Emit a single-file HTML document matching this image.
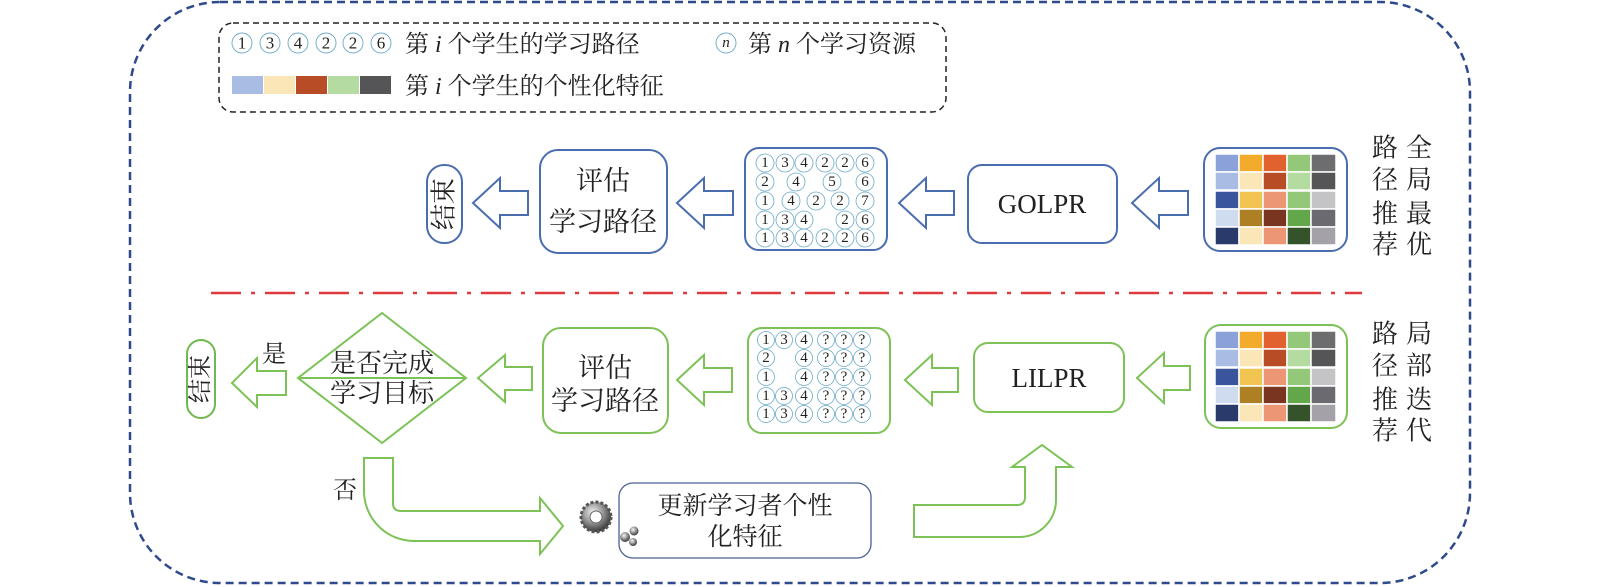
<!DOCTYPE html>
<html><head><meta charset="utf-8"><style>
html,body{margin:0;padding:0;background:#fff;}
svg{display:block;}
text{font-family:"Liberation Serif","Noto Serif CJK SC",serif;fill:#222;}
.c{font-family:"Liberation Serif",serif;font-size:15px;text-anchor:middle;dominant-baseline:central;}
</style></head><body>
<svg width="1600" height="587" viewBox="0 0 1600 587" xmlns="http://www.w3.org/2000/svg">
<defs>
<radialGradient id="g1" cx="40%" cy="35%" r="65%"><stop offset="0" stop-color="#f4f4f4"/><stop offset="0.5" stop-color="#9a9a9a"/><stop offset="1" stop-color="#3a3a3a"/></radialGradient>
</defs>
<!-- outer -->
<rect x="130" y="2" width="1340" height="581" rx="90" fill="none" stroke="#2f4a8c" stroke-width="2.5" stroke-dasharray="8,5"/>
<!-- legend -->
<rect x="219" y="23" width="727" height="89" rx="14" fill="none" stroke="#222" stroke-width="1.5" stroke-dasharray="6,4"/>
<g fill="none" stroke="#6aaac8" stroke-width="0.9">
<circle cx="242" cy="43" r="10"/><circle cx="270" cy="43" r="10"/><circle cx="298" cy="43" r="10"/><circle cx="326" cy="43" r="10"/><circle cx="353" cy="43" r="10"/><circle cx="381" cy="43" r="10"/><circle cx="726" cy="43" r="10"/>
</g>
<g class="c" style="font-size:17px">
<text class="c" x="242" y="43" style="font-size:17px">1</text><text class="c" x="270" y="43" style="font-size:17px">3</text><text class="c" x="298" y="43" style="font-size:17px">4</text><text class="c" x="326" y="43" style="font-size:17px">2</text><text class="c" x="353" y="43" style="font-size:17px">2</text><text class="c" x="381" y="43" style="font-size:17px">6</text><text class="c" x="726" y="43" style="font-size:15px;font-style:italic">n</text>
</g>
<text x="405" y="52" font-size="24">第 <tspan font-style="italic">i</tspan> 个学生的学习路径</text>
<text x="748" y="52" font-size="24">第 <tspan font-style="italic">n</tspan> 个学习资源</text>
<rect x="232" y="76" width="31" height="18" fill="#a9bce4"/><rect x="264" y="76" width="31" height="18" fill="#fbe6b7"/><rect x="296" y="76" width="31" height="18" fill="#b84c26"/><rect x="328" y="76" width="31" height="18" fill="#b5dca0"/><rect x="360" y="76" width="31" height="18" fill="#555557"/>
<text x="405" y="94" font-size="24">第 <tspan font-style="italic">i</tspan> 个学生的个性化特征</text>

<!-- TOP ROW -->
<rect x="427" y="165" width="35" height="78" rx="17" fill="none" stroke="#4a6db0" stroke-width="2"/>
<text transform="translate(444,204) rotate(-90)" font-size="26" text-anchor="middle" dominant-baseline="central">结束</text>
<g fill="#fff" stroke="#4a6db0" stroke-width="2">
<polygon points="473,203 500,178 500,191 528,191 528,215 500,215 500,228"/>
<polygon points="677,203 704,178 704,191 733,191 733,215 704,215 704,228"/>
<polygon points="899,203 926,178 926,191 954,191 954,215 926,215 926,228"/>
<polygon points="1132,203 1159,178 1159,191 1188,191 1188,215 1159,215 1159,228"/>
<rect x="540" y="150" width="127" height="103" rx="18"/>
<rect x="745" y="148" width="142" height="102" rx="14"/>
<rect x="968" y="165" width="149" height="78" rx="14"/>
<rect x="1204" y="148" width="143" height="103" rx="16"/>
</g>
<text x="603" y="190" font-size="27" text-anchor="middle">评估</text>
<text x="603" y="231" font-size="27" text-anchor="middle">学习路径</text>
<text x="1042" y="213" font-size="27" text-anchor="middle">GOLPR</text>
<g fill="none" stroke="#6aaac8" stroke-width="0.8">
<circle cx="765" cy="163" r="9"/><circle cx="785" cy="163" r="9"/><circle cx="804" cy="163" r="9"/><circle cx="825" cy="163" r="9"/><circle cx="845" cy="163" r="9"/><circle cx="865" cy="163" r="9"/>
<circle cx="765" cy="182" r="9"/><circle cx="796" cy="182" r="9"/><circle cx="832" cy="182" r="9"/><circle cx="865" cy="182" r="9"/>
<circle cx="765" cy="201" r="9"/><circle cx="791" cy="201" r="9"/><circle cx="816" cy="201" r="9"/><circle cx="840" cy="201" r="9"/><circle cx="865" cy="201" r="9"/>
<circle cx="765" cy="220" r="9"/><circle cx="785" cy="220" r="9"/><circle cx="804" cy="220" r="9"/><circle cx="845" cy="220" r="9"/><circle cx="865" cy="220" r="9"/>
<circle cx="765" cy="238" r="9"/><circle cx="785" cy="238" r="9"/><circle cx="804" cy="238" r="9"/><circle cx="825" cy="238" r="9"/><circle cx="845" cy="238" r="9"/><circle cx="865" cy="238" r="9"/>
</g>
<text class="c" x="765" y="163">1</text><text class="c" x="785" y="163">3</text><text class="c" x="804" y="163">4</text><text class="c" x="825" y="163">2</text><text class="c" x="845" y="163">2</text><text class="c" x="865" y="163">6</text>
<text class="c" x="765" y="182">2</text><text class="c" x="796" y="182">4</text><text class="c" x="832" y="182">5</text><text class="c" x="865" y="182">6</text>
<text class="c" x="765" y="201">1</text><text class="c" x="791" y="201">4</text><text class="c" x="816" y="201">2</text><text class="c" x="840" y="201">2</text><text class="c" x="865" y="201">7</text>
<text class="c" x="765" y="220">1</text><text class="c" x="785" y="220">3</text><text class="c" x="804" y="220">4</text><text class="c" x="845" y="220">2</text><text class="c" x="865" y="220">6</text>
<text class="c" x="765" y="238">1</text><text class="c" x="785" y="238">3</text><text class="c" x="804" y="238">4</text><text class="c" x="825" y="238">2</text><text class="c" x="845" y="238">2</text><text class="c" x="865" y="238">6</text>
<!-- top grid -->
<g stroke="#fff" stroke-width="1.5">
<rect x="1215" y="154" width="24" height="18" fill="#8aa2d8"/><rect x="1239" y="154" width="24" height="18" fill="#f2ab2a"/><rect x="1263" y="154" width="24" height="18" fill="#e1622f"/><rect x="1287" y="154" width="24" height="18" fill="#92c878"/><rect x="1311" y="154" width="25" height="18" fill="#6d6d6f"/>
<rect x="1215" y="172" width="24" height="18" fill="#a9bce4"/><rect x="1239" y="172" width="24" height="18" fill="#fbe6b7"/><rect x="1263" y="172" width="24" height="18" fill="#b84c26"/><rect x="1287" y="172" width="24" height="18" fill="#b5dca0"/><rect x="1311" y="172" width="25" height="18" fill="#555557"/>
<rect x="1215" y="191" width="24" height="18" fill="#3a559c"/><rect x="1239" y="191" width="24" height="18" fill="#f2c451"/><rect x="1263" y="191" width="24" height="18" fill="#ec9676"/><rect x="1287" y="191" width="24" height="18" fill="#92c878"/><rect x="1311" y="191" width="25" height="18" fill="#c4c4c6"/>
<rect x="1215" y="209" width="24" height="18" fill="#cfdbee"/><rect x="1239" y="209" width="24" height="18" fill="#ad8023"/><rect x="1263" y="209" width="24" height="18" fill="#7a3520"/><rect x="1287" y="209" width="24" height="18" fill="#62a84a"/><rect x="1311" y="209" width="25" height="18" fill="#6a6a70"/>
<rect x="1215" y="227" width="24" height="18" fill="#2a3a6a"/><rect x="1239" y="227" width="24" height="18" fill="#fbe6b7"/><rect x="1263" y="227" width="24" height="18" fill="#ec9676"/><rect x="1287" y="227" width="24" height="18" fill="#34532a"/><rect x="1311" y="227" width="25" height="18" fill="#a4a2a8"/>
</g>
<g font-size="26" text-anchor="middle" dominant-baseline="central">
<text x="1385" y="148">路</text><text x="1385" y="180">径</text><text x="1385" y="214">推</text><text x="1385" y="245">荐</text>
<text x="1419" y="148">全</text><text x="1419" y="180">局</text><text x="1419" y="214">最</text><text x="1419" y="245">优</text>
<text x="1385" y="334">路</text><text x="1385" y="366">径</text><text x="1385" y="400">推</text><text x="1385" y="431">荐</text>
<text x="1419" y="334">局</text><text x="1419" y="366">部</text><text x="1419" y="400">迭</text><text x="1419" y="431">代</text>
</g>
<!-- red line -->
<line x1="211" y1="293" x2="1362" y2="293" stroke="#e0393e" stroke-width="2.5" stroke-dasharray="30,10,4,10"/>

<!-- BOTTOM ROW -->
<rect x="187" y="340" width="28" height="78" rx="14" fill="none" stroke="#70b850" stroke-width="2"/>
<text transform="translate(201,379) rotate(-90)" font-size="24" text-anchor="middle" dominant-baseline="central">结束</text>
<text x="274" y="362" font-size="24" text-anchor="middle">是</text>
<g fill="#fff" stroke="#7cc256" stroke-width="2">
<polygon points="232,383 257,358 257,371 286,371 286,395 257,395 257,407"/>
<polygon points="478,378 505,355 505,367 532,367 532,390 505,390 505,402"/>
<polygon points="677,380 704,355 704,368 732,368 732,392 704,392 704,405"/>
<polygon points="905,380 932,355 932,368 958,368 958,392 932,392 932,405"/>
<polygon points="1137,378 1164,353 1164,366 1190,366 1190,390 1164,390 1164,403"/>
<polygon points="382,313 466,378 382,443 298,378"/>
<rect x="543" y="328" width="125" height="105" rx="18"/>
<rect x="748" y="328" width="142" height="105" rx="14"/>
<rect x="974" y="343" width="150" height="69" rx="14"/>
<rect x="1205" y="325" width="142" height="103" rx="16"/>
<path d="M364,458 L393,458 L393,503 Q393,511 401,511 L540,511 L540,498 L563,526 L540,554 L540,541 L414,541 A50,50 0 0 1 364,491 Z"/>
<path d="M914,505 L1017,505 Q1025,505 1025,497 L1025,467 L1012,467 L1042,445 L1072,467 L1056,467 L1056,500 A37,37 0 0 1 1019,537 L914,537 Z"/>
</g>
<line x1="298" y1="378" x2="466" y2="378" stroke="#7cc256" stroke-width="2"/>
<text x="382" y="372" font-size="26" text-anchor="middle">是否完成</text>
<text x="382" y="402" font-size="26" text-anchor="middle">学习目标</text>
<text x="605" y="377" font-size="27" text-anchor="middle">评估</text>
<text x="605" y="410" font-size="27" text-anchor="middle">学习路径</text>
<text x="1049" y="387" font-size="27" text-anchor="middle">LILPR</text>
<text x="345" y="498" font-size="24" text-anchor="middle">否</text>
<g fill="none" stroke="#6aaac8" stroke-width="0.8">
<circle cx="766" cy="340" r="8.5"/><circle cx="784" cy="340" r="8.5"/><circle cx="804" cy="340" r="8.5"/><circle cx="826" cy="340" r="8.5"/><circle cx="844" cy="340" r="8.5"/><circle cx="862" cy="340" r="8.5"/>
<circle cx="766" cy="358" r="8.5"/><circle cx="804" cy="358" r="8.5"/><circle cx="826" cy="358" r="8.5"/><circle cx="844" cy="358" r="8.5"/><circle cx="862" cy="358" r="8.5"/>
<circle cx="766" cy="377" r="8.5"/><circle cx="804" cy="377" r="8.5"/><circle cx="826" cy="377" r="8.5"/><circle cx="844" cy="377" r="8.5"/><circle cx="862" cy="377" r="8.5"/>
<circle cx="766" cy="396" r="8.5"/><circle cx="784" cy="396" r="8.5"/><circle cx="804" cy="396" r="8.5"/><circle cx="826" cy="396" r="8.5"/><circle cx="844" cy="396" r="8.5"/><circle cx="862" cy="396" r="8.5"/>
<circle cx="766" cy="414" r="8.5"/><circle cx="784" cy="414" r="8.5"/><circle cx="804" cy="414" r="8.5"/><circle cx="826" cy="414" r="8.5"/><circle cx="844" cy="414" r="8.5"/><circle cx="862" cy="414" r="8.5"/>
</g>
<g>
<text class="c" x="766" y="340">1</text><text class="c" x="784" y="340">3</text><text class="c" x="804" y="340">4</text><text class="c" x="826" y="340">?</text><text class="c" x="844" y="340">?</text><text class="c" x="862" y="340">?</text>
<text class="c" x="766" y="358">2</text><text class="c" x="804" y="358">4</text><text class="c" x="826" y="358">?</text><text class="c" x="844" y="358">?</text><text class="c" x="862" y="358">?</text>
<text class="c" x="766" y="377">1</text><text class="c" x="804" y="377">4</text><text class="c" x="826" y="377">?</text><text class="c" x="844" y="377">?</text><text class="c" x="862" y="377">?</text>
<text class="c" x="766" y="396">1</text><text class="c" x="784" y="396">3</text><text class="c" x="804" y="396">4</text><text class="c" x="826" y="396">?</text><text class="c" x="844" y="396">?</text><text class="c" x="862" y="396">?</text>
<text class="c" x="766" y="414">1</text><text class="c" x="784" y="414">3</text><text class="c" x="804" y="414">4</text><text class="c" x="826" y="414">?</text><text class="c" x="844" y="414">?</text><text class="c" x="862" y="414">?</text>
</g>
<!-- bottom grid -->
<g stroke="#fff" stroke-width="1.5">
<rect x="1215" y="331" width="24" height="18" fill="#8aa2d8"/><rect x="1239" y="331" width="24" height="18" fill="#f2ab2a"/><rect x="1263" y="331" width="24" height="18" fill="#e1622f"/><rect x="1287" y="331" width="24" height="18" fill="#92c878"/><rect x="1311" y="331" width="25" height="18" fill="#6d6d6f"/>
<rect x="1215" y="349" width="24" height="18" fill="#a9bce4"/><rect x="1239" y="349" width="24" height="18" fill="#fbe6b7"/><rect x="1263" y="349" width="24" height="18" fill="#b84c26"/><rect x="1287" y="349" width="24" height="18" fill="#b5dca0"/><rect x="1311" y="349" width="25" height="18" fill="#555557"/>
<rect x="1215" y="368" width="24" height="18" fill="#3a559c"/><rect x="1239" y="368" width="24" height="18" fill="#f2c451"/><rect x="1263" y="368" width="24" height="18" fill="#ec9676"/><rect x="1287" y="368" width="24" height="18" fill="#92c878"/><rect x="1311" y="368" width="25" height="18" fill="#c4c4c6"/>
<rect x="1215" y="386" width="24" height="18" fill="#cfdbee"/><rect x="1239" y="386" width="24" height="18" fill="#ad8023"/><rect x="1263" y="386" width="24" height="18" fill="#7a3520"/><rect x="1287" y="386" width="24" height="18" fill="#62a84a"/><rect x="1311" y="386" width="25" height="18" fill="#6a6a70"/>
<rect x="1215" y="404" width="24" height="18" fill="#2a3a6a"/><rect x="1239" y="404" width="24" height="18" fill="#fbe6b7"/><rect x="1263" y="404" width="24" height="18" fill="#ec9676"/><rect x="1287" y="404" width="24" height="18" fill="#34532a"/><rect x="1311" y="404" width="25" height="18" fill="#a4a2a8"/>
</g>
<!-- gear + update box -->
<circle cx="596" cy="517" r="15" fill="url(#g1)" stroke="#555" stroke-width="3" stroke-dasharray="3,2"/>
<circle cx="596" cy="517" r="6" fill="#fff" stroke="#666" stroke-width="1"/>
<circle cx="625" cy="537" r="5" fill="url(#g1)"/><circle cx="634" cy="531" r="4.5" fill="url(#g1)"/><circle cx="633" cy="542" r="4" fill="url(#g1)"/>
<rect x="619" y="483" width="252" height="75" rx="14" fill="none" stroke="#4a5f94" stroke-width="1.3"/>
<text x="745" y="514" font-size="25" text-anchor="middle">更新学习者个性</text>
<text x="745" y="545" font-size="25" text-anchor="middle">化特征</text>
</svg>
</body></html>
